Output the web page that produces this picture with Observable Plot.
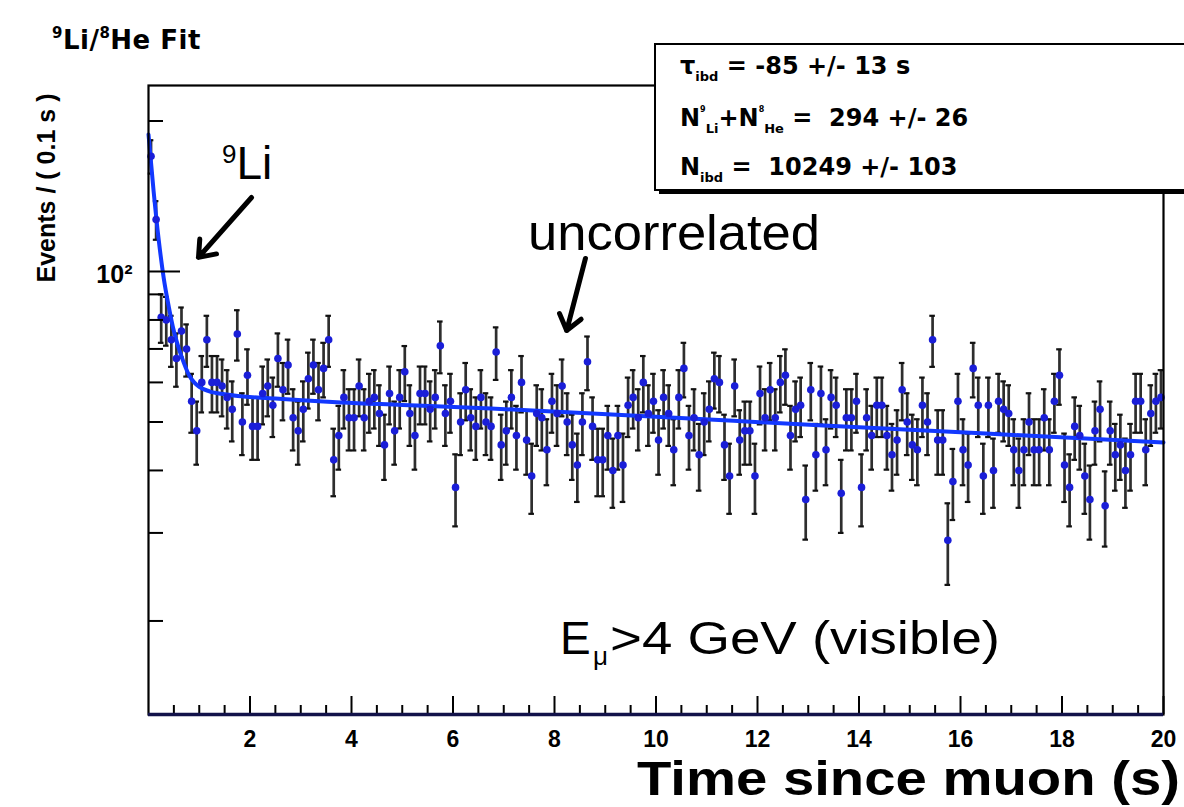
<!DOCTYPE html>
<html><head><meta charset="utf-8">
<script src="https://cdn.jsdelivr.net/npm/d3@7"></script>
<script src="https://cdn.jsdelivr.net/npm/@observablehq/plot@0.6"></script>
<style>
body{margin:0;background:#fff;}
#wrap{position:relative;width:1184px;height:807px;overflow:hidden;background:#fff;}
#chart{position:absolute;left:0;top:0;}
#overlay{position:absolute;left:0;top:0;}
</style></head><body>
<div id="wrap"><div id="chart"></div><svg id="overlay" width="1184" height="807" xmlns="http://www.w3.org/2000/svg"></svg></div>
<script>
// ---- data ----
const binWidth = 0.1; // s
const counts = [
 170,127,81,80,73,67,76,70,55,48, 60,73,60,60,59,56,53,75,50,62,
 49,49,57,59,54,67,58,65,51,48, 53,61,65,58,64,73,42,47,56,51,
 51,59,51,55,56,52,45,57,48,56, 63,52,47,57,57,53,56,71,52,55,
 37,50,58,51,49,56,50,49,69,45, 48,56,47,60,46,39,52,51,44,55,
 52,59,50,45,41,50,66,49,42,42, 47,40,47,41,54,56,51,60,52,55,
 46,56,52,44,56,64,47,51,43,50, 53,61,60,45,39,59,46,48,48,39,
 57,51,58,51,60,62,47,53,54,35, 58,43,57,44,56,54,36,51,51,55,
 37,51,47,54,54,47,43,46,58,50, 45,44,54,50,73,46,46,29,38,55,
 44,41,64,54,39,54,40,55,53,52, 44,40,44,50,44,44,51,44,55,62,
 41,37,49,47,39,35,48,53,34,48, 43,45,40,43,55,55,44,52,55,56
];
const fitTime  = [0, 0.1, 0.2, 0.3, 0.4, 0.5, 0.6, 0.7, 0.8, 0.9, 1.0, 1.2, 1.5, 2.5, 3.8, 5, 6.75, 10, 13.3, 16.5, 20];
const fitValue = [188, 145, 116, 97, 85, 76, 70, 65.5, 62, 60, 58.8, 57.6, 56.8, 55.7, 54.7, 54.1, 53.2, 51.2, 49.2, 47.4, 45.5];
const xTickLabels = [2, 4, 6, 8, 10, 12, 14, 16, 18, 20];
const xMinorTicks = [0.5,1,1.5,2.5,3,3.5,4.5,5,5.5,6.5,7,7.5,8.5,9,9.5,10.5,11,11.5,12.5,13,13.5,14.5,15,15.5,16.5,17,17.5,18.5,19,19.5];
const yMajorTicks = [100];
const yMinorTicks = [20, 30, 40, 50, 60, 70, 80, 90, 200];
const xDomain = [0, 20];
const yDomain = [13.0, 235.5];
// annotation arrows (tail -> head) in data coordinates
const arrowLi   = {t1: 2.03, v1: 140.6, t2: 0.985, v2: 106.7};
const arrowUnc  = {t1: 8.61, v1: 106.2, t2: 8.24,  v2: 76.2};

// ---- derived tables ----
const bins = counts.map((v, i) => ({t: (i + 0.5) * binWidth, v, lo: v - Math.sqrt(v), hi: v + Math.sqrt(v)}));
const fit = fitTime.map((t, i) => ({t, v: fitValue[i]}));

const W = 1184, H = 807, mL = 148, mR = 21, mT = 85, mB = 93;
const fw = W - mL - mR, fh = H - mT - mB;
const capHalf = 0.055;

const chart = Plot.plot({
  width: W, height: H,
  marginLeft: mL, marginRight: mR, marginTop: mT, marginBottom: mB,
  x: {domain: xDomain},
  y: {type: "log", domain: yDomain},
  style: {background: "transparent", fontFamily: "'Liberation Sans', Arial, sans-serif", color: "#000"},
  marks: [
    Plot.ruleX(bins, {x: "t", y1: "lo", y2: "hi", stroke: "#2e2e2e", strokeWidth: 2.7}),
    Plot.ruleY(bins, {y: "hi", x1: d => d.t - capHalf, x2: d => d.t + capHalf, stroke: "#111", strokeWidth: 2.2}),
    Plot.ruleY(bins, {y: "lo", x1: d => d.t - capHalf, x2: d => d.t + capHalf, stroke: "#111", strokeWidth: 2.2}),
    Plot.line(fit, {x: "t", y: "v", stroke: "#1238ff", strokeWidth: 4, curve: "monotone-x"}),
    Plot.dot(bins, {x: "t", y: "v", r: 3.8, fill: "#1a1ed8", stroke: "none"}),
    Plot.arrow([arrowLi, arrowUnc], {x1: "t1", y1: "v1", x2: "t2", y2: "v2", stroke: "#000", strokeWidth: 5, headLength: 5.5, headAngle: 75}),
    Plot.tickX(xTickLabels, {insetTop: fh - 18, stroke: "#000", strokeWidth: 2}),
    Plot.tickX(xMinorTicks, {insetTop: fh - 9, stroke: "#000", strokeWidth: 2}),
    Plot.tickY(yMajorTicks, {insetRight: fw - 32, stroke: "#000", strokeWidth: 2}),
    Plot.tickY(yMinorTicks, {insetRight: fw - 15, stroke: "#000", strokeWidth: 2}),
    Plot.frame({stroke: "#000", strokeWidth: 2.2}),
    Plot.ruleY([yDomain[0]], {stroke: "#12124a", strokeWidth: 3.5}),
    Plot.axisX({ticks: xTickLabels, tickSize: 0, tickPadding: 16, fontSize: 23, fontWeight: "bold", label: null}),
    Plot.axisY({ticks: yMajorTicks, tickSize: 0, tickPadding: 16, tickFormat: () => "10²", fontSize: 25, fontWeight: "bold", label: null, dy: 4})
  ]
});
document.getElementById("chart").appendChild(chart);

// ---- overlay texts ----
const ov = d3.select("#overlay");
const bold = "'DejaVu Sans', sans-serif";
const helv = "'Liberation Sans', Arial, sans-serif";

// title
const title = ov.append("text").attr("x", 52).attr("y", 49)
  .attr("font-family", bold).attr("font-weight", "bold").attr("font-size", 26).attr("letter-spacing", 0.5);
title.append("tspan").attr("font-size", 15).attr("dy", -11).text("9");
title.append("tspan").attr("dy", 11).text("Li/");
title.append("tspan").attr("font-size", 15).attr("dy", -11).text("8");
title.append("tspan").attr("dy", 11).text("He Fit");

// y label
ov.append("text").attr("transform", "translate(55,188) rotate(-90)")
  .attr("text-anchor", "middle").attr("font-family", helv).attr("font-weight", "bold")
  .attr("font-size", 25).text("Events / ( 0.1 s )");

// x label
ov.append("text").attr("x", 637).attr("y", 795)
  .attr("font-family", helv).attr("font-weight", "bold").attr("font-size", 48)
  .attr("textLength", 543).attr("lengthAdjust", "spacingAndGlyphs")
  .text("Time since muon (s)");

// stats box
ov.append("rect").attr("x", 659).attr("y", 48).attr("width", 600).attr("height", 146).attr("fill", "#000");
ov.append("rect").attr("x", 655).attr("y", 44).attr("width", 600).attr("height", 146)
  .attr("fill", "#fff").attr("stroke", "#000").attr("stroke-width", 2);
function statLine(y, parts) {
  const t = ov.append("text").attr("x", 680).attr("y", y).attr("font-family", bold)
    .attr("font-weight", "bold").attr("font-size", 24).attr("xml:space", "preserve").style("white-space", "pre");
  for (const [txt, kind] of parts) {
    const s = t.append("tspan").text(txt);
    if (kind === "sub") s.attr("font-size", 13).attr("dy", 7);
    else if (kind === "sup") s.attr("font-size", 8).attr("dy", -14);
    else if (kind === "subAfterSup") s.attr("font-size", 13).attr("dy", 21);
    else if (kind === "back") s.attr("dy", -7);
  }
}
statLine(74, [["τ", ""], ["ibd", "sub"], [" = -85 +/- 13 s", "back"]]);
statLine(126, [["N", ""], ["9", "sup"], ["Li", "subAfterSup"], ["+N", "back"], ["8", "sup"], ["He", "subAfterSup"], [" =  294 +/- 26", "back"]]);
statLine(175, [["N", ""], ["ibd", "sub"], [" =  10249 +/- 103", "back"]]);

// annotations
const li = ov.append("text").attr("x", 222).attr("y", 179).attr("font-family", helv).attr("font-size", 46);
li.append("tspan").attr("font-size", 26).attr("dy", -16).text("9");
li.append("tspan").attr("dy", 16).text("Li");

ov.append("text").attr("x", 528).attr("y", 250).attr("font-family", helv).attr("font-size", 50)
  .attr("textLength", 292).attr("lengthAdjust", "spacingAndGlyphs").text("uncorrelated");

ov.append("text").attr("x", 560).attr("y", 654).attr("font-family", helv).attr("font-size", 46).text("E");
ov.append("text").attr("x", 593).attr("y", 665).attr("font-family", helv).attr("font-size", 26).text("μ");
ov.append("text").attr("x", 610).attr("y", 654).attr("font-family", helv).attr("font-size", 46)
  .attr("textLength", 390).attr("lengthAdjust", "spacingAndGlyphs").text(">4 GeV (visible)");
</script>
</body></html>
